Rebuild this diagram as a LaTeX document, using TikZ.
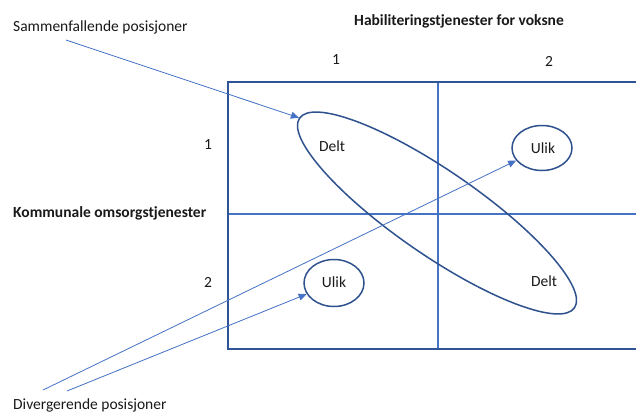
\documentclass[tikz,border=0pt]{standalone}
\usepackage{fontspec}
\setmainfont{Carlito}
\usetikzlibrary{arrows.meta,shapes.geometric}
\definecolor{frameblue}{HTML}{2F5597}
\definecolor{gridblue}{HTML}{4472C4}
\definecolor{ringblue}{HTML}{2F528F}
\tikzset{
  txt/.style={font=\fontsize{15.5}{18}\selectfont, inner sep=0pt, text=black!90},
  bold/.style={txt, font=\fontsize{15.5}{18}\selectfont\bfseries},
  ring/.style={draw=ringblue, line width=1.5pt, ellipse, inner sep=0pt},
  pointer/.style={draw=gridblue, line width=0.8pt, -{Triangle[length=8pt,width=7pt]}},
  frame/.style={draw=frameblue, line width=2.2pt},
  divider/.style={draw=gridblue, line width=1.6pt}
}
\begin{document}
\begin{tikzpicture}[x=1pt,y=-1pt]
  \clip (0,0) rectangle (636,412);
  \fill[white] (0,0) rectangle (636,412);

  % grid of the two services
  \draw[divider] (438,82) -- (438,349);
  \draw[divider] (228,214) -- (660,214);
  \draw[frame] (660,82) -- (228,82) -- (228,349) -- (660,349);

  % headings and axis numbers
  \node[bold] (hab) at (459,21) {Habiliteringstjenester for voksne};
  \node[bold, anchor=west] (kom) at (13,213) {Kommunale omsorgstjenester};
  \node[txt] (c1) at (336,60) {1};
  \node[txt] (c2) at (549,61) {2};
  \node[txt] (r1) at (208,145) {1};
  \node[txt] (r2) at (208,282) {2};

  % positions
  \node[ring, minimum width=334pt, minimum height=84pt, rotate=-34.6] (big) at (437,213) {};
  \node[txt] (delt1) at (332,146) {Delt};
  \node[txt] (delt2) at (544,281) {Delt};
  \node[ring, minimum width=60pt, minimum height=45pt] (ulikR) at (542,148) {};
  \node[txt] (ulikRt) at (543,148) {Ulik};
  \node[ring, minimum width=60pt, minimum height=47pt] (ulikL) at (334,283) {};
  \node[txt] (ulikLt) at (334,282) {Ulik};

  % explanatory labels
  \node[txt, anchor=west] (samm) at (13,27) {Sammenfallende posisjoner};
  \node[txt, anchor=west] (div) at (13,405) {Divergerende posisjoner};
  \coordinate (sammfoot) at (66,40);
  \coordinate (divfootA) at (43,390);
  \coordinate (divfootB) at (67,391);

  \draw[pointer] (sammfoot) -- (big.west);
  \draw[pointer] (divfootA) -- (ulikR);
  \draw[pointer] (divfootB) -- (ulikL);
\end{tikzpicture}
\end{document}
